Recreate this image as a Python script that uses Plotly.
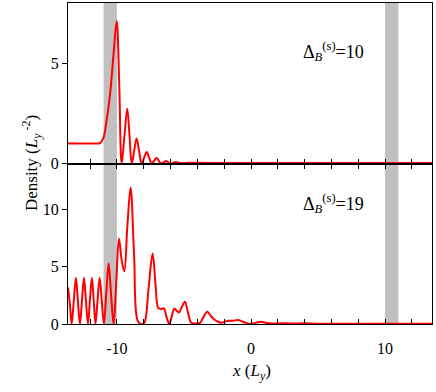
import plotly.graph_objects as go
from plotly.subplots import make_subplots

# top panel, Delta_B^(s) = 10
x_top = [-13.7, -12.5, -11.6, -11.27, -11.02, -10.77, -10.52, -10.27, -10.02, -9.83, -9.65,
         -9.44, -9.23, -9.06, -8.9, -8.72, -8.53, -8.35, -8.16, -7.97, -7.78, -7.6, -7.41,
         -7.22, -7.04, -6.88, -6.72, -6.53, -6.34, -6.15, -5.97, -5.78, -5.6, -5.4, -5.1,
         -4.7, -3.0, 0.0, 5.0, 13.7]
y_top = [1.0, 1.0, 1.0, 1.02, 1.25, 2.15, 3.4, 5.3, 7.1, 4.0, 0.0,
         1.37, 2.73, 1.37, 0.0, 0.62, 1.25, 0.62, 0.0, 0.29, 0.57, 0.29, 0.0,
         0.14, 0.27, 0.14, 0.0, 0.06, 0.12, 0.06, 0.0, 0.04, 0.07, 0.04, 0.02,
         0.04, 0.03, 0.03, 0.02, 0.02]

# bottom panel, Delta_B^(s) = 19
x_bot = [-13.65, -13.5, -13.38, -13.22, -13.06, -12.91, -12.76, -12.61, -12.46, -12.31,
         -12.16, -12.02, -11.87, -11.73, -11.6, -11.45, -11.29, -11.13, -10.97, -10.8,
         -10.62, -10.44, -10.25, -10.05, -9.85, -9.65, -9.45, -9.22, -8.98, -8.72, -8.46,
         -8.2, -7.96, -7.65, -7.34, -7.11, -6.92, -6.7, -6.5, -6.3, -6.1, -5.9, -5.72,
         -5.55, -5.37, -5.15, -4.93, -4.7, -4.45, -4.1, -3.8, -3.55, -3.26, -3.0, -2.69,
         -2.45, -2.19, -1.95, -1.69, -1.35, -0.95, -0.5, -0.07, 0.4, 0.8, 1.2, 1.6, 2.2,
         3.0, 4.0, 5.0, 7.0, 13.7]
y_bot = [3.2, 1.6, 0.0, 2.0, 4.03, 2.0, 0.0, 2.0, 4.03, 2.0,
         0.0, 2.0, 4.03, 2.0, 0.0, 2.0, 4.03, 2.0, 0.0, 2.6,
         5.27, 2.6, 0.0, 3.7, 7.45, 5.6, 4.6, 8.6, 11.9, 6.0, 0.3,
         0.0, 0.1, 3.0, 6.15, 3.3, 1.4, 1.3, 1.36, 0.6, 0.0, 0.7, 1.36,
         1.15, 1.01, 1.5, 1.94, 1.0, 0.1, 0.05, 0.1, 0.6, 1.07, 0.7, 0.35,
         0.2, 0.1, 0.2, 0.29, 0.28, 0.35, 0.15, 0.0, 0.12, 0.2, 0.08, 0.04, 0.07,
         0.04, 0.06, 0.03, 0.02, 0.02]

band_edges = [(-11.0, -10.0), (10.0, 11.0)]
x_ticks = list(range(-12, 13, 2))
x_ticktext = ['-10' if v == -10 else '0' if v == 0 else '10' if v == 10 else '' for v in x_ticks]

font_name = '"Liberation Serif", "Times New Roman", Times, serif'

fig = make_subplots(rows=2, cols=1, shared_xaxes=True, vertical_spacing=0)

fig.add_trace(go.Scatter(x=x_top, y=y_top, mode='lines',
                         line=dict(color='red', width=2, shape='spline', smoothing=1.0),
                         hoverinfo='none'), row=1, col=1)
fig.add_trace(go.Scatter(x=x_bot, y=y_bot, mode='lines',
                         line=dict(color='red', width=2, shape='spline', smoothing=1.0),
                         hoverinfo='none'), row=2, col=1)

for x0, x1 in band_edges:
    fig.add_vrect(x0=x0, x1=x1, row='all', col=1, fillcolor='rgb(192,192,192)',
                  opacity=1, line_width=0, layer='below')

axis_style = dict(showline=True, linecolor='black', linewidth=1, mirror=True,
                  showgrid=False, zeroline=False,
                  tickfont=dict(family=font_name, size=16, color='black'))

fig.update_xaxes(range=[-13.65, 13.5], tickvals=x_ticks, ticktext=x_ticktext,
                 ticks='inside', ticklen=5, tickcolor='black', **axis_style)
fig.update_xaxes(showticklabels=False, row=1, col=1)
fig.update_xaxes(mirror='ticks', ticklabelstandoff=10, row=2, col=1)

fig.update_yaxes(ticks='outside', ticklen=5, tickcolor='black', **axis_style)
fig.update_yaxes(range=[0, 8], tickvals=[0, 5], row=1, col=1)
fig.update_yaxes(range=[0, 14], tickvals=[0, 5, 10], row=2, col=1)

text_font = dict(family=font_name, size=18, color='black')
fig.add_annotation(text='Δ<sub><i>B</i></sub><sup>(s)</sup>=10', xref='paper', yref='paper',
                   x=0.82, y=0.895, showarrow=False, font=text_font)
fig.add_annotation(text='Δ<sub><i>B</i></sub><sup>(s)</sup>=19', xref='paper', yref='paper',
                   x=0.82, y=0.375, showarrow=False, font=text_font)
fig.add_annotation(text='<i>x</i> (<i>L</i><sub><i>y</i></sub>)', xref='paper', yref='paper',
                   x=0.505, y=-0.15, yanchor='middle', showarrow=False,
                   font=dict(family=font_name, size=17, color='black'))
fig.add_annotation(text='Density (<i>L</i><sub><i>y</i></sub><sup> -2</sup>)',
                   xref='paper', yref='paper', x=-0.14, y=0.5, textangle=-90,
                   showarrow=False, font=dict(family=font_name, size=17, color='black'))

fig.update_layout(width=436, height=392, margin=dict(l=68, r=4, t=3, b=68),
                  paper_bgcolor='white', plot_bgcolor='white', showlegend=False,
                  font=dict(family=font_name))

fig.write_html('out.html', config={'displayModeBar': False},
               post_script="document.body.style.margin='0px';")
